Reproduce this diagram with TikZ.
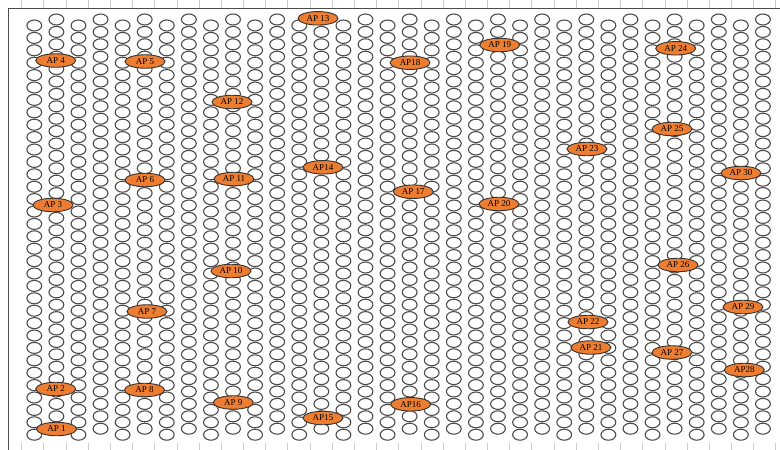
\documentclass[tikz,border=0pt]{standalone}
\usepackage{fontspec}
\setmainfont{Liberation Serif}
\usetikzlibrary{shapes.geometric}
\definecolor{apfill}{HTML}{ED7D31}
\begin{document}
\begin{tikzpicture}[x=1pt,y=-1pt,
  cell/.style={draw=black!70,line width=1.1pt},
  ap/.style={ellipse,draw=black!80,line width=0.9pt,fill=apfill,minimum width=40pt,minimum height=13.5pt,inner sep=0pt,font=\fontsize{9}{9}\selectfont},
  tickline/.style={draw=black!20,line width=0.8pt},
  frameline/.style={draw=black!70,line width=1pt}]
\useasboundingbox (0,0) rectangle (780,450);
\foreach \i in {0,...,34} {
  \draw[tickline] ({21.7+22.18*\i},0) -- ({21.7+22.18*\i},8);
  \draw[tickline] ({21.7+22.18*\i},443) -- ({21.7+22.18*\i},450);
}
\draw[frameline] (8,450) -- (8,8) -- (780,8);
\foreach \k in {0,...,33} {
  \pgfmathsetmacro\cx{34.3+22.08*\k}
  \pgfmathsetmacro\cy{mod(\k,2)==0 ? 25.5 : 19.5}
  \foreach \j in {0,...,33} {
    \draw[cell] (\cx,{\cy+12.4*\j}) ellipse [x radius=7.4pt, y radius=5.5pt];
  }
}
\node[ap] (ap1) at (56.5,429) {AP 1};
\node[ap] (ap2) at (55.7,389) {AP 2};
\node[ap] (ap3) at (53,205) {AP 3};
\node[ap] (ap4) at (55.7,60.5) {AP 4};
\node[ap] (ap5) at (145,61.5) {AP 5};
\node[ap] (ap6) at (145,180) {AP 6};
\node[ap] (ap7) at (147,311.5) {AP 7};
\node[ap] (ap8) at (144.5,390) {AP 8};
\node[ap] (ap9) at (233.3,402.5) {AP 9};
\node[ap] (ap10) at (231,271) {AP 10};
\node[ap] (ap11) at (234,179) {AP 11};
\node[ap] (ap12) at (232,102) {AP 12};
\node[ap] (ap13) at (318,18.3) {AP 13};
\node[ap] (ap14) at (323,167.3) {AP14};
\node[ap] (ap15) at (323,418) {AP15};
\node[ap] (ap16) at (410.7,404.3) {AP16};
\node[ap] (ap17) at (413.3,191.7) {AP 17};
\node[ap] (ap18) at (410,62.7) {AP18};
\node[ap] (ap19) at (499.7,45) {AP 19};
\node[ap] (ap20) at (499,204) {AP 20};
\node[ap] (ap21) at (591,347.5) {AP 21};
\node[ap] (ap22) at (588,322) {AP 22};
\node[ap] (ap23) at (587,149) {AP 23};
\node[ap] (ap24) at (675.7,48.3) {AP 24};
\node[ap] (ap25) at (672,129) {AP 25};
\node[ap] (ap26) at (678,265) {AP 26};
\node[ap] (ap27) at (672,352.5) {AP 27};
\node[ap] (ap28) at (744.3,370) {AP28};
\node[ap] (ap29) at (743,307) {AP 29};
\node[ap] (ap30) at (741,173) {AP 30};
\end{tikzpicture}
\end{document}
